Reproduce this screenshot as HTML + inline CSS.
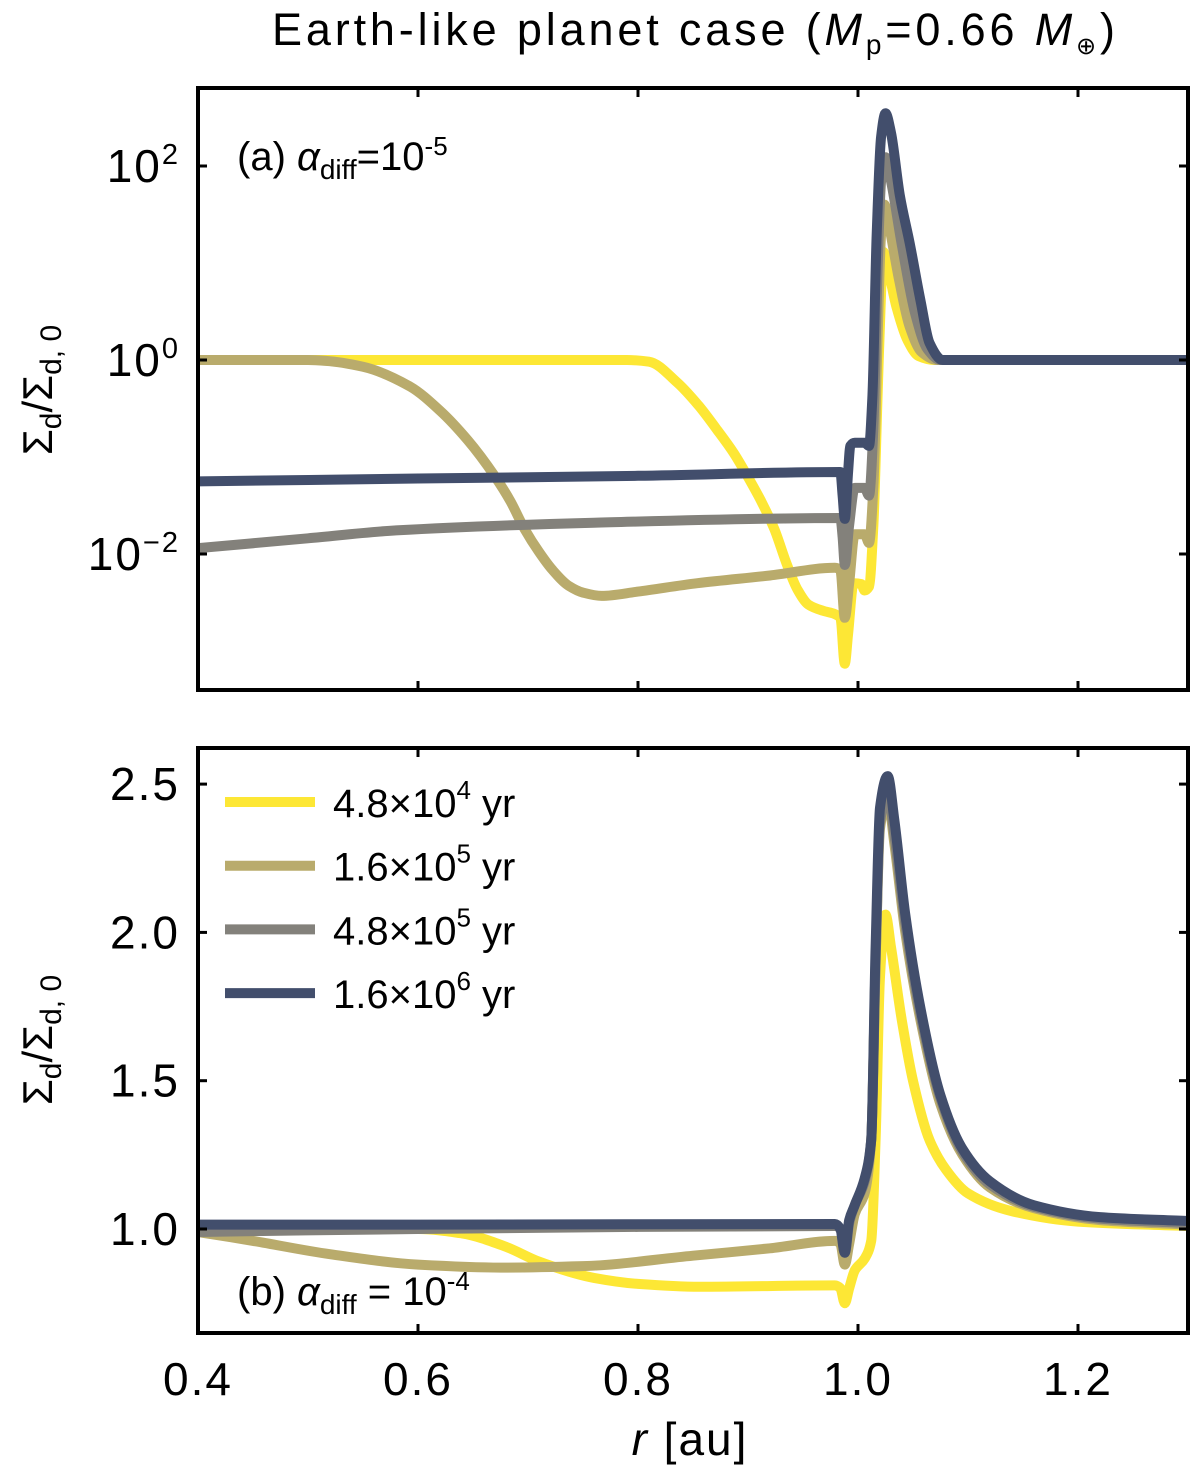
<!DOCTYPE html>
<html><head><meta charset="utf-8"><style>
body{margin:0;background:#fff;overflow:hidden}
svg{display:block;font-family:"Liberation Sans","DejaVu Sans",sans-serif}
</style></head><body>
<svg id="chart" width="1200" height="1469" viewBox="0 0 1200 1469">
<text x="272" y="45" font-size="45" textLength="843" lengthAdjust="spacing">Earth-like planet case (<tspan font-style="italic">M</tspan><tspan font-size="28" dy="9">p</tspan><tspan dy="-9">=0.66 </tspan><tspan font-style="italic">M</tspan><tspan font-size="24" dy="9">⊕</tspan><tspan dy="-9">)</tspan></text>
<g id="pa"></g>
<g id="pb"></g>
<text transform="translate(52,390) rotate(-90)" font-size="42" text-anchor="middle">Σ<tspan font-size="30" dy="9">d</tspan><tspan dy="-9">/Σ</tspan><tspan font-size="30" dy="9">d, 0</tspan></text>
<text transform="translate(52,1040) rotate(-90)" font-size="42" text-anchor="middle">Σ<tspan font-size="30" dy="9">d</tspan><tspan dy="-9">/Σ</tspan><tspan font-size="30" dy="9">d, 0</tspan></text>
<text x="690" y="1455" font-size="46" text-anchor="middle" letter-spacing="2"><tspan font-style="italic">r</tspan> [au]</text>
<text x="237" y="170" font-size="40">(a) <tspan font-style="italic">α</tspan><tspan font-size="28" dy="9">diff</tspan><tspan dy="-9">=10</tspan><tspan font-size="26" dy="-15">-5</tspan></text>
<text x="237" y="1305" font-size="40">(b) <tspan font-style="italic">α</tspan><tspan font-size="28" dy="9">diff</tspan><tspan dy="-9"> = 10</tspan><tspan font-size="26" dy="-15">-4</tspan></text>
</svg>
<script>
const NS="http://www.w3.org/2000/svg";
const xTicks=[0.4,0.6,0.8,1.0,1.2];
const xTickLabels=["0.4","0.6","0.8","1.0","1.2"];
const yTicksA=[100,1,0.01];
const yTickLabelsA=["10^2","10^0","10^−2"];
const yTicksB=[1.0,1.5,2.0,2.5];
const yTickLabelsB=["1.0","1.5","2.0","2.5"];
const seriesNames=["4.8×10^4","1.6×10^5","4.8×10^5","1.6×10^6"];
const colors=["#fde735","#b9ab6c","#83817b","#424e6c"];
// panel a data [r, value]
const a0=[[0.40,1],[0.79,1],[0.81,0.96],[0.836,0.58],[0.855,0.34],[0.872,0.19],[0.887,0.11],[0.90,0.062],[0.912,0.035],[0.924,0.018],[0.935,0.008],[0.945,0.0043],[0.955,0.003],[0.968,0.0026],[0.979,0.0024],[0.984,0.0022],[0.988,0.00074],[0.991,0.0015],[0.996,0.005],[1.003,0.0049],[1.006,0.0042],[1.010,0.0046],[1.014,0.02],[1.018,0.5],[1.021,5],[1.023,13],[1.028,8],[1.035,3.5],[1.045,1.6],[1.055,1.1],[1.07,1.0],[1.3,1]];
const a1=[[0.40,1],[0.50,1],[0.516,0.98],[0.55,0.85],[0.593,0.53],[0.62,0.3],[0.645,0.15],[0.67,0.063],[0.684,0.035],[0.697,0.018],[0.71,0.0105],[0.722,0.0069],[0.737,0.0047],[0.75,0.004],[0.767,0.0037],[0.80,0.0041],[0.854,0.005],[0.92,0.006],[0.979,0.0072],[0.984,0.0068],[0.988,0.0022],[0.992,0.005],[0.997,0.016],[1.006,0.016],[1.010,0.013],[1.014,0.05],[1.018,2],[1.021,20],[1.024,40],[1.029,22],[1.037,7],[1.047,2.2],[1.058,1.2],[1.072,1.0],[1.3,1]];
const a2=[[0.40,0.0115],[0.50,0.0145],[0.58,0.0175],[0.76,0.021],[0.984,0.0235],[0.986,0.015],[0.988,0.0077],[0.992,0.02],[0.997,0.048],[1.006,0.048],[1.010,0.04],[1.014,0.2],[1.018,10],[1.021,70],[1.025,123],[1.030,70],[1.040,15],[1.052,3],[1.063,1.3],[1.075,1.0],[1.3,1]];
const a3=[[0.40,0.056],[0.60,0.06],[0.80,0.064],[0.984,0.07],[0.986,0.04],[0.988,0.023],[0.991,0.07],[0.993,0.13],[0.997,0.14],[1.006,0.14],[1.010,0.13],[1.013,0.4],[1.017,20],[1.021,200],[1.025,350],[1.030,220],[1.038,50],[1.047,16],[1.057,4],[1.065,1.5],[1.077,1.0],[1.3,1]];
// panel b data [r, value]
const b0=[[0.40,1.0],[0.60,1.0],[0.64,0.985],[0.68,0.94],[0.71,0.89],[0.76,0.835],[0.80,0.815],[0.856,0.805],[0.979,0.81],[0.984,0.8],[0.988,0.75],[0.992,0.8],[0.997,0.86],[1.006,0.9],[1.012,0.96],[1.016,1.3],[1.020,1.85],[1.025,2.06],[1.030,1.95],[1.040,1.7],[1.050,1.5],[1.065,1.3],[1.08,1.2],[1.10,1.12],[1.14,1.06],[1.20,1.025],[1.3,1.01]];
const b1=[[0.40,0.99],[0.45,0.96],[0.52,0.915],[0.60,0.88],[0.675,0.87],[0.75,0.875],[0.85,0.91],[0.92,0.935],[0.979,0.96],[0.984,0.95],[0.988,0.88],[0.992,0.95],[0.997,1.05],[1.006,1.12],[1.012,1.3],[1.016,1.9],[1.020,2.35],[1.027,2.45],[1.033,2.3],[1.043,2.0],[1.057,1.7],[1.075,1.42],[1.095,1.25],[1.12,1.14],[1.16,1.07],[1.22,1.03],[1.3,1.015]];
const b2=[[0.40,0.99],[0.60,1.0],[0.979,1.01],[0.984,1.0],[0.988,0.92],[0.992,1.02],[0.997,1.08],[1.006,1.16],[1.012,1.3],[1.016,1.9],[1.020,2.37],[1.027,2.47],[1.033,2.33],[1.043,2.03],[1.057,1.72],[1.075,1.44],[1.095,1.26],[1.12,1.15],[1.16,1.075],[1.22,1.035],[1.3,1.02]];
const b3=[[0.40,1.015],[0.60,1.015],[0.979,1.017],[0.984,1.0],[0.988,0.92],[0.992,1.03],[0.997,1.08],[1.006,1.17],[1.012,1.3],[1.016,1.95],[1.020,2.42],[1.027,2.527],[1.033,2.38],[1.043,2.06],[1.057,1.74],[1.075,1.45],[1.095,1.27],[1.12,1.16],[1.16,1.08],[1.22,1.04],[1.3,1.027]];
const seriesA=[a0,a1,a2,a3], seriesB=[b0,b1,b2,b3];

const L=198,R=1188;
const X=r=>L+(r-0.4)/0.9*(R-L);
const A={top:88,bot:690,y:v=>360-97*Math.log10(v)};
const B={top:748,bot:1333,y:v=>1229-(v-1)*296.6};

function el(tag,attrs,parent){const e=document.createElementNS(NS,tag);for(const k in attrs)e.setAttribute(k,attrs[k]);parent.appendChild(e);return e;}
// monotone cubic (Fritsch-Butland) path through pixel points
function monoPath(P){
  const n=P.length,d=[],h=[],m=[];
  for(let i=0;i<n-1;i++){h.push(P[i+1][0]-P[i][0]);d.push((P[i+1][1]-P[i][1])/h[i]);}
  m[0]=d[0];m[n-1]=d[n-2];
  for(let i=1;i<n-1;i++){
    if(d[i-1]*d[i]<=0){m[i]=0;continue;}
    const w1=2*h[i]+h[i-1],w2=h[i]+2*h[i-1];
    m[i]=(w1+w2)/(w1/d[i-1]+w2/d[i]);
  }
  let s="M"+P[0][0].toFixed(1)+","+P[0][1].toFixed(1);
  for(let i=0;i<n-1;i++){
    const k=h[i]/3;
    s+="C"+(P[i][0]+k).toFixed(1)+","+(P[i][1]+m[i]*k).toFixed(1)+" "+(P[i+1][0]-k).toFixed(1)+","+(P[i+1][1]-m[i+1]*k).toFixed(1)+" "+P[i+1][0].toFixed(1)+","+P[i+1][1].toFixed(1);
  }
  return s;
}
function supLabel(parent,txt,x,y,anchor,suffix,fs){
  fs=fs||46;
  const t=el("text",{x:x,y:y,"font-size":fs,"text-anchor":anchor,"letter-spacing":fs>44?2:0},parent);
  const p=txt.split("^");
  t.appendChild(document.createTextNode(p[0]));
  if(p[1]){const s=el("tspan",{"font-size":Math.round(fs*0.64),dy:-18},t);s.textContent=p[1];}
  if(suffix){const s=el("tspan",{dy:p[1]?18:0},t);s.textContent=suffix;}
  return t;
}
function panel(g,P,series,yt,ytl,showX){
  const clip=el("clipPath",{id:g.id+"c"},g);
  el("rect",{x:L,y:P.top,width:R-L,height:P.bot-P.top},clip);
  const cg=el("g",{"clip-path":"url(#"+g.id+"c)"},g);
  series.forEach((s,i)=>{
    const pts=s.map(p=>[X(p[0]),P.y(p[1])]);
    const path=el("path",{d:monoPath(pts),fill:"none",stroke:colors[i],"stroke-width":10,"stroke-linejoin":"round","stroke-linecap":"round"},cg);
    
    
  });
  xTicks.forEach((r,i)=>{
    el("line",{x1:X(r),x2:X(r),y1:P.bot,y2:P.bot-9,stroke:"#000","stroke-width":3},g);
    el("line",{x1:X(r),x2:X(r),y1:P.top,y2:P.top+9,stroke:"#000","stroke-width":3},g);
    if(showX){const t=el("text",{x:X(r),y:1395,"font-size":46,"letter-spacing":2,"text-anchor":"middle"},g);t.textContent=xTickLabels[i];
      
      }
  });
  yt.forEach((v,i)=>{
    const y=P.y(v);
    el("line",{x1:L,x2:L+9,y1:y,y2:y,stroke:"#000","stroke-width":3},g);
    el("line",{x1:R,x2:R-9,y1:y,y2:y,stroke:"#000","stroke-width":3},g);
    const t=supLabel(g,ytl[i],180,y+16,"end");
    
    
  });
  el("rect",{x:L,y:P.top,width:R-L,height:P.bot-P.top,fill:"none",stroke:"#000","stroke-width":4},g);
}
panel(document.getElementById("pa"),A,seriesA,yTicksA,yTickLabelsA,false);
panel(document.getElementById("pb"),B,seriesB,yTicksB,yTickLabelsB,true);
const pb=document.getElementById("pb");
seriesNames.forEach((n,i)=>{
  const y=802+i*63.7;
  const g=el("g",{},pb);
  
  
  el("line",{x1:225,x2:315,y1:y,y2:y,stroke:colors[i],"stroke-width":10},g);
  supLabel(g,n,333,y+15,"start"," yr",40);
});
</script>
</body></html>
